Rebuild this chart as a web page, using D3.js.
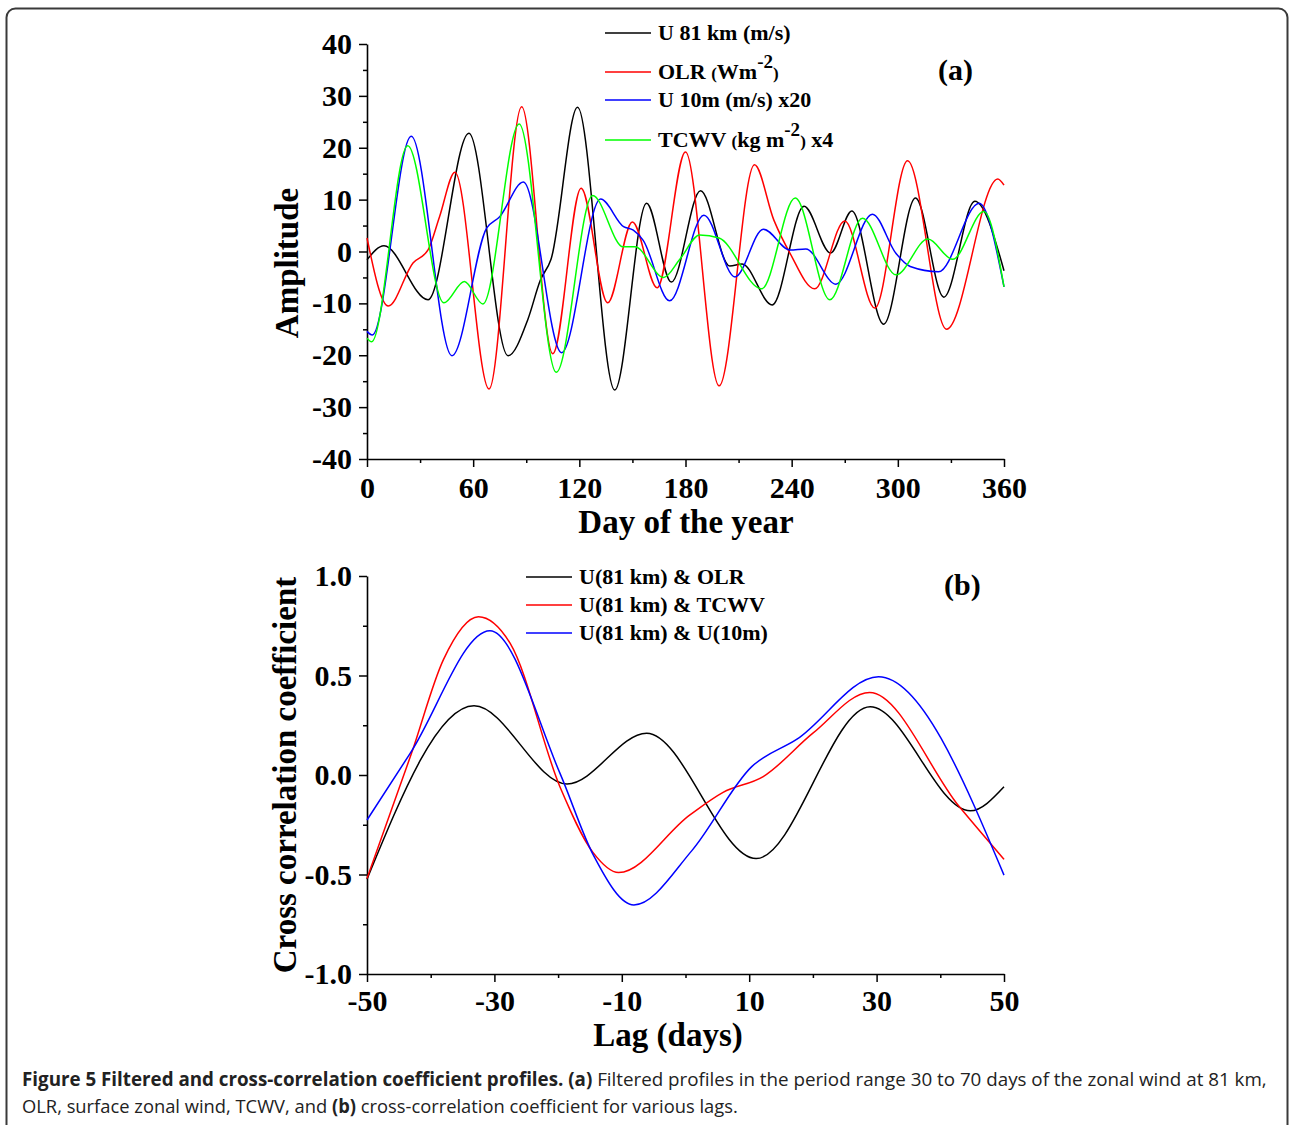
<!DOCTYPE html>
<html>
<head>
<meta charset="utf-8">
<script src="https://cdn.jsdelivr.net/npm/d3@7"></script>
<style>
  html, body { margin: 0; padding: 0; background: #fff; }
  svg { display: block; }
  .serif { font-family: "Liberation Serif", "Times New Roman", serif; font-weight: bold; }
</style>
</head>
<body>
<svg id="chart" width="1289" height="1125"></svg>
<script>
// ---------------- DATA ----------------
// Panel (a): filtered profiles, x = day of the year
const u81Days   = [0, 9.6, 34.5, 57.6, 79.7, 91, 98, 104, 119, 140, 158, 172, 188.5, 205, 212, 229, 247, 262, 274, 292, 310, 326, 343.5, 360];
const u81Vals   = [-1.6, 1.1, -9.3, 22.8, -20.1, -13, -5.5, -1.5, 27.8, -26.7, 9.3, -5.9, 11.7, -2.8, -2.4, -10.3, 8.7, -0.3, 7.8, -14, 10.3, -8.8, 9.7, -3.7];

const olrDays   = [0, 12, 26, 34.5, 41, 49.7, 69, 87.4, 105, 121, 136, 150, 164, 180, 199, 219, 230, 239, 253, 270, 287, 305.5, 327.5, 356.5, 360];
const olrVals   = [2.6, -10.5, -2.2, 0.3, 6.7, 15.3, -26.5, 27.9, -19.7, 12.2, -9.9, 5.7, -7.0, 19.2, -25.9, 16.7, 6, -0.3, -7.2, 5.9, -10.9, 17.5, -15, 14, 12.8];

const u10Days   = [0, 3, 25, 48, 67.6, 75, 88.4, 110, 132, 145, 150.5, 156, 171, 190.4, 208, 224, 239, 248, 265, 285.6, 299, 307, 323, 346, 360];
const u10Vals   = [-15.4, -16.1, 22.2, -20.1, 4.5, 6.7, 13.4, -19.5, 10.1, 4.8, 4.1, 2.2, -9.5, 7.0, -4.9, 4.3, 0.3, 0.5, -6.3, 7.2, -0.4, -2.9, -3.9, 9.3, -6.8];

const tcwvDays  = [0, 2.6, 23, 43.5, 55, 65.5, 86, 107, 127.5, 144.8, 151.4, 167.7, 176.8, 188, 199, 223, 242, 261.6, 280, 299, 317, 331, 348.6, 360];
const tcwvVals  = [-16.7, -17.4, 20.4, -9.9, -5.8, -10.1, 24.6, -23.3, 10.8, 0.9, 0.9, -5.0, -1.5, 3.2, 2.6, -7.2, 10.3, -9.3, 6.4, -4.5, 2.4, -1.5, 7.7, -6.8];

// Panel (b): cross-correlation coefficient, x = lag (days)
const olrLag    = [-50, -33.2, -18.6, -6.1, 11.1, 29, 44.7, 50];
const olrCorr   = [-0.524, 0.348, -0.045, 0.21, -0.42, 0.343, -0.18, -0.059];

const tcwvLag   = [-50, -43, -38, -32.5, -27.5, -19.7, -14.5, -10.5, 0.7, 5.9, 12.2, 20, 28.9, 43, 50];
const tcwvCorr  = [-0.52, 0.11, 0.58, 0.795, 0.66, -0.06, -0.39, -0.49, -0.2, -0.087, -0.008, 0.21, 0.415, -0.16, -0.424];

const u10Lag    = [-50, -43.2, -30.7, -19.7, -14.5, -8.1, 1, 10.4, 17.5, 30.3, 50];
const u10Corr   = [-0.226, 0.11, 0.725, 0.008, -0.40, -0.653, -0.38, 0.042, 0.18, 0.494, -0.503];

// Tick labels
const topXTicks = [0, 60, 120, 180, 240, 300, 360];
const topYTicks = [-40, -30, -20, -10, 0, 10, 20, 30, 40];
const botXTicks = [-50, -30, -10, 10, 30, 50];
const botYTicks = [-1.0, -0.5, 0.0, 0.5, 1.0];

const colors = { black: "#000000", red: "#ff0000", blue: "#0000ff", green: "#00ff00" };

// ---------------- DRAWING ----------------
const svg = d3.select("#chart");

// rounded frame
svg.append("rect")
  .attr("x", 6.5).attr("y", 8.5).attr("width", 1281).attr("height", 1130)
  .attr("rx", 9).attr("ry", 9)
  .attr("fill", "none").attr("stroke", "#3a3a3a").attr("stroke-width", 2);

function zip(xs, ys) { return xs.map((x, i) => [x, ys[i]]); }
const hyph = f => (d => f(d).replace("\u2212", "-"));

function drawPanel(opt) {
  const g = svg.append("g");
  const x = d3.scaleLinear().domain(opt.xDomain).range(opt.xRange);
  const y = d3.scaleLinear().domain(opt.yDomain).range(opt.yRange);

  // minor ticks
  g.append("g").attr("transform", `translate(0,${opt.yRange[0]})`)
    .call(d3.axisBottom(x).tickValues(opt.xMinor).tickSize(4).tickFormat("").tickSizeOuter(0))
    .call(s => s.select(".domain").remove())
    .call(s => s.selectAll("line").attr("stroke-width", 1.5));
  g.append("g").attr("transform", `translate(${opt.xRange[0]},0)`)
    .call(d3.axisLeft(y).tickValues(opt.yMinor).tickSize(4).tickFormat("").tickSizeOuter(0))
    .call(s => s.select(".domain").remove())
    .call(s => s.selectAll("line").attr("stroke-width", 1.5));

  // major axes
  const xa = g.append("g").attr("transform", `translate(0,${opt.yRange[0]})`)
    .call(d3.axisBottom(x).tickValues(opt.xTicks).tickSize(8).tickPadding(opt.xPad)
      .tickFormat(hyph(opt.xFmt)).tickSizeOuter(0));
  const ya = g.append("g").attr("transform", `translate(${opt.xRange[0]},0)`)
    .call(d3.axisLeft(y).tickValues(opt.yTicks).tickSize(8).tickPadding(7)
      .tickFormat(hyph(opt.yFmt)).tickSizeOuter(0));
  [xa, ya].forEach(a => {
    a.select(".domain").attr("stroke-width", 1.6);
    a.selectAll("line").attr("stroke-width", 1.5);
    a.selectAll("text").attr("class", "serif").attr("font-size", 30).attr("fill", "#000");
  });

  const line = d3.line().x(d => x(d[0])).y(d => y(d[1])).curve(d3.curveMonotoneX);
  opt.series.forEach(s => {
    g.append("path").datum(zip(s.xs, s.ys))
      .attr("d", line).attr("fill", "none")
      .attr("stroke", s.color).attr("stroke-width", 1.5);
  });

  // axis titles
  g.append("text").attr("class", "serif").attr("font-size", 33)
    .attr("text-anchor", "middle")
    .attr("x", opt.xTitlePos[0]).attr("y", opt.xTitlePos[1])
    .text(opt.xTitle);
  g.append("text").attr("class", "serif").attr("font-size", 33)
    .attr("text-anchor", "middle")
    .attr("transform", `translate(${opt.yTitlePos[0]},${opt.yTitlePos[1]}) rotate(-90)`)
    .text(opt.yTitle);

  // panel tag
  g.append("text").attr("class", "serif").attr("font-size", 30)
    .attr("x", opt.tagPos[0]).attr("y", opt.tagPos[1]).text(opt.tag);

  // legend
  opt.legend.forEach(L => {
    g.append("line").attr("x1", L.x).attr("x2", L.x + 46).attr("y1", L.y).attr("y2", L.y)
      .attr("stroke", L.color).attr("stroke-width", 1.5);
    const t = g.append("text").attr("class", "serif").attr("font-size", 22)
      .attr("x", L.x + 53).attr("y", L.y + 7);
    L.parts.forEach(p => {
      const ts = t.append("tspan").text(p.t);
      if (p.size) ts.attr("font-size", p.size);
      if (p.dy) ts.attr("dy", p.dy);
    });
  });
}

drawPanel({
  xDomain: [0, 360], xRange: [367, 1004],
  yDomain: [-40, 40], yRange: [459, 44],
  xTicks: topXTicks, yTicks: topYTicks,
  xMinor: [30, 90, 150, 210, 270, 330],
  yMinor: [-35, -25, -15, -5, 5, 15, 25, 35],
  xFmt: d3.format("d"), yFmt: d3.format("d"), xPad: 10,
  xTitle: "Day of the year", xTitlePos: [686, 533],
  yTitle: "Amplitude", yTitlePos: [298, 263],
  tag: "(a)", tagPos: [938, 80],
  series: [
    { xs: u81Days, ys: u81Vals, color: colors.black },
    { xs: olrDays, ys: olrVals, color: colors.red },
    { xs: u10Days, ys: u10Vals, color: colors.blue },
    { xs: tcwvDays, ys: tcwvVals, color: colors.green }
  ],
  legend: [
    { x: 605, y: 33, color: colors.black, parts: [{ t: "U 81 km (m/s)" }] },
    { x: 605, y: 72, color: colors.red, parts: [{ t: "OLR " }, { t: "(", size: 17 }, { t: "Wm" }, { t: "-2", size: 19, dy: -11 }, { t: ")", size: 17, dy: 11 }] },
    { x: 605, y: 100, color: colors.blue, parts: [{ t: "U 10m (m/s) x20" }] },
    { x: 605, y: 140, color: colors.green, parts: [{ t: "TCWV " }, { t: "(", size: 17 }, { t: "kg m" }, { t: "-2", size: 19, dy: -11 }, { t: ")", size: 17, dy: 11 }, { t: " x4" }] }
  ]
});

drawPanel({
  xDomain: [-50, 50], xRange: [367, 1004],
  yDomain: [-1, 1], yRange: [974, 576],
  xTicks: botXTicks, yTicks: botYTicks,
  xMinor: [-40, -20, 0, 20, 40],
  yMinor: [-0.75, -0.25, 0.25, 0.75],
  xFmt: d3.format("d"), yFmt: d3.format(".1f"), xPad: 8,
  xTitle: "Lag (days)", xTitlePos: [668, 1046],
  yTitle: "Cross correlation coefficient", yTitlePos: [296, 775],
  tag: "(b)", tagPos: [944, 595],
  series: [
    { xs: olrLag, ys: olrCorr, color: colors.black },
    { xs: tcwvLag, ys: tcwvCorr, color: colors.red },
    { xs: u10Lag, ys: u10Corr, color: colors.blue }
  ],
  legend: [
    { x: 526, y: 577, color: colors.black, parts: [{ t: "U(81 km) & OLR" }] },
    { x: 526, y: 605, color: colors.red, parts: [{ t: "U(81 km) & TCWV" }] },
    { x: 526, y: 633, color: colors.blue, parts: [{ t: "U(81 km) & U(10m)" }] }
  ]
});

// caption
const cap = svg.append("g").attr("font-family", "'Open Sans', 'Noto Sans', sans-serif").attr("fill", "#222");
const line1 = cap.append("text").attr("x", 22).attr("y", 1086).attr("font-size", 18);
line1.append("tspan").attr("font-weight", "bold").text("Figure 5 Filtered and cross-correlation coefficient profiles. (a)");
line1.append("tspan").text(" Filtered profiles in the period range 30 to 70 days of the zonal wind at 81 km,");
const line2 = cap.append("text").attr("x", 22).attr("y", 1113).attr("font-size", 18);
line2.append("tspan").text("OLR, surface zonal wind, TCWV, and ");
line2.append("tspan").attr("font-weight", "bold").text("(b)");
line2.append("tspan").text(" cross-correlation coefficient for various lags.");
// fit caption lines to the reference widths
const w1 = line1.node().getComputedTextLength();
const fs = Math.max(12, Math.min(22, 18 * 1245 / w1));
line1.attr("font-size", fs); line2.attr("font-size", fs);
const w2 = line2.node().getComputedTextLength();
const sx = Math.min(1, 716 / w2);
line2.attr("transform", `translate(22,0) scale(${sx},1) translate(-22,0)`);
</script>
</body>
</html>
